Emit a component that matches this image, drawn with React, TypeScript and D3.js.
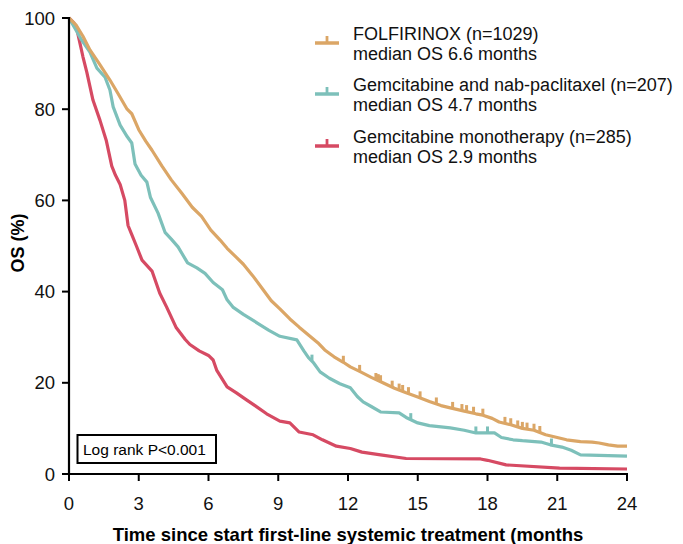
import React from "react";
import * as d3 from "d3";

type Pt = [number, number];

// Kaplan-Meier estimates: [months, OS %]
const folfirinox: Pt[] = [
  [0, 100], [0.3, 98.5], [0.6, 96], [0.9, 93], [1.3, 90], [1.76, 86.4], [2.1, 83.5],
  [2.5, 80], [2.7, 79], [3.0, 75.5], [3.3, 73], [3.57, 71], [4.0, 67.5], [4.4, 64.5],
  [4.86, 61.5], [5.3, 58.5], [5.7, 56.5], [6.1, 53.5], [6.5, 51.3], [6.8, 49.5],
  [7.2, 47.5], [7.5, 46], [7.9, 43.5], [8.35, 40.4], [8.7, 38], [9.07, 36.2],
  [9.5, 34], [9.9, 32.2], [10.3, 30.5], [10.7, 28.8], [11.0, 27.2], [11.4, 25.7],
  [11.8, 24.5], [12.1, 23.5], [12.5, 22.5], [13.0, 21.2], [13.5, 20.0], [14.0, 18.8],
  [14.5, 17.8], [15.0, 16.9], [15.5, 15.9], [16.0, 15.0], [16.4, 14.5], [17.0, 13.8],
  [17.5, 13.2], [17.8, 12.9], [18.2, 12.2], [18.5, 11.4], [19.0, 10.8], [19.5, 10.0],
  [20.0, 9.6], [20.5, 8.6], [21.0, 8.0], [21.4, 7.5], [22.0, 7.1], [22.5, 7.0],
  [22.8, 6.8], [23.2, 6.4], [23.6, 6.1], [24.0, 6.1],
];

const gemNab: Pt[] = [
  [0, 100], [0.34, 97], [0.5, 95.5], [0.9, 92.5], [1.2, 89], [1.55, 87], [1.76, 84.2],
  [1.9, 80.5], [2.2, 76.5], [2.5, 74], [2.7, 72.6], [2.84, 68], [3.1, 65.5], [3.35, 64],
  [3.5, 60.7], [3.83, 57.2], [4.13, 53], [4.4, 51.5], [4.69, 49.8], [5.1, 46.3],
  [5.5, 45.2], [5.85, 44], [6.2, 42], [6.6, 40.4], [6.8, 38.2], [7.05, 36.6], [7.5, 35],
  [8.1, 33.1], [8.6, 31.5], [9.07, 30.2], [9.8, 29.4], [10.1, 27], [10.3, 25.5],
  [10.5, 24.5], [10.8, 22.4], [11.2, 21], [11.65, 19.8], [12.1, 18.9], [12.4, 17],
  [12.65, 15.8], [13.0, 14.8], [13.4, 13.6], [14.2, 13.4], [14.5, 12.4], [15.0, 11.2],
  [15.5, 10.6], [16.4, 10.1], [17.0, 9.6], [17.5, 9.0], [18.3, 9.0], [18.6, 8.0],
  [19.1, 7.5], [19.5, 7.3], [20.3, 7.0], [20.7, 6.4], [21.2, 5.9], [21.6, 5.2],
  [22.0, 4.2], [24.0, 3.9],
];

const gemMono: Pt[] = [
  [0, 100], [0.2, 99], [0.34, 97.5], [0.47, 94.5], [0.6, 91.5], [0.77, 88], [1.03, 82],
  [1.33, 77.6], [1.6, 73.2], [1.84, 67.5], [2.0, 65.5], [2.2, 63.5], [2.4, 60],
  [2.54, 54.5], [2.7, 52.5], [2.9, 50], [3.14, 46.9], [3.57, 44.5], [3.9, 39.7],
  [4.2, 36.6], [4.6, 32.2], [5.0, 29.5], [5.2, 28.4], [5.6, 27], [6.0, 26], [6.2, 25],
  [6.35, 22.8], [6.8, 19.1], [7.2, 17.8], [7.65, 16.2], [8.0, 15], [8.5, 13.2],
  [9.07, 11.6], [9.5, 11.2], [9.9, 9.2], [10.5, 8.6], [10.9, 7.5], [11.5, 6.1],
  [12.1, 5.6], [12.6, 4.8], [13.4, 4.2], [14.5, 3.4], [17.7, 3.3], [18.0, 3.0],
  [18.8, 2.0], [21.1, 1.3], [24, 1.1],
];

// censoring marks (months)
const folfirinoxCensor = [
  11.8, 12.5, 13.2, 13.3, 13.4, 13.9, 14.2, 14.35, 14.6, 15.1, 15.8, 16.5, 16.9,
  17.1, 17.4, 17.8, 18.75, 19.0, 19.3, 19.5, 19.7, 20.0, 20.25,
];
const gemNabCensor = [10.45, 14.7, 17.5, 18.0, 20.75];
const gemMonoCensor: number[] = [];

const xTicks = [0, 3, 6, 9, 12, 15, 18, 21, 24];
const yTicks = [0, 20, 40, 60, 80, 100];

const seriesNames = [
  ["FOLFIRINOX (n=1029)", "median OS 6.6 months"],
  ["Gemcitabine and nab-paclitaxel (n=207)", "median OS 4.7 months"],
  ["Gemcitabine monotherapy (n=285)", "median OS 2.9 months"],
];

const colors = ["#DBA666", "#7DC0BA", "#D64A63"];
const FONT = "'Liberation Sans', Arial, Helvetica, sans-serif";

function valueAt(data: Pt[], t: number) {
  for (let i = 1; i < data.length; i++) {
    const [t0, s0] = data[i - 1];
    const [t1, s1] = data[i];
    if (t >= t0 && t <= t1) {
      return t1 === t0 ? s1 : s0 + ((s1 - s0) * (t - t0)) / (t1 - t0);
    }
  }
  return data[data.length - 1][1];
}

export default function App() {
  const W = 683;
  const H = 544;
  const x = d3.scaleLinear().domain([0, 24]).range([69, 627]);
  const y = d3.scaleLinear().domain([0, 100]).range([474, 18]);
  const line = d3
    .line<Pt>()
    .x((d) => x(d[0]))
    .y((d) => y(d[1]))
    .curve(d3.curveLinear);

  const series = [
    { data: folfirinox, censor: folfirinoxCensor },
    { data: gemNab, censor: gemNabCensor },
    { data: gemMono, censor: gemMonoCensor },
  ];

  const legendY = [43, 94, 146];

  return (
    <svg
      width={W}
      height={H}
      style={{ position: "absolute", left: 0, top: 0, background: "#fff" }}
      fontFamily={FONT}
    >
      {/* curves, drawn back to front */}
      {[2, 1, 0].map((i) => {
        const s = series[i];
        return (
          <g key={i}>
            <path d={line(s.data) || ""} fill="none" stroke={colors[i]} strokeWidth={3.2} strokeLinejoin="round" />
            {s.censor.map((t, j) => {
              const v = valueAt(s.data, t);
              return (
                <line key={j} x1={x(t)} x2={x(t)} y1={y(v)} y2={y(v) - 6.5} stroke={colors[i]} strokeWidth={3} />
              );
            })}
          </g>
        );
      })}

      {/* y axis */}
      <line x1={69} x2={69} y1={y(100) - 1} y2={y(0) + 1} stroke="#000" strokeWidth={2.2} />
      {yTicks.map((t) => (
        <g key={t}>
          <line x1={62} x2={69} y1={y(t)} y2={y(t)} stroke="#000" strokeWidth={2} />
          <text x={55} y={y(t) + 6.5} textAnchor="end" fontSize={18.5} fill="#111">
            {t}
          </text>
        </g>
      ))}

      {/* x axis */}
      <line x1={68} x2={628} y1={474} y2={474} stroke="#000" strokeWidth={2.2} />
      {xTicks.map((t) => (
        <g key={t}>
          <line x1={x(t)} x2={x(t)} y1={474} y2={481} stroke="#000" strokeWidth={2} />
          <text x={x(t)} y={510} textAnchor="middle" fontSize={18.5} fill="#111">
            {t}
          </text>
        </g>
      ))}

      <text x={348} y={540.5} textAnchor="middle" fontSize={18.5} fontWeight="bold" fill="#000">
        Time since start first-line systemic treatment (months
      </text>
      <text
        transform="translate(24,243) rotate(-90)"
        textAnchor="middle"
        fontSize={18}
        fontWeight="bold"
        fill="#000"
      >
        OS (%)
      </text>

      {/* log rank box */}
      <rect x={77.5} y={435} width={138.5} height={28} fill="#fff" stroke="#000" strokeWidth={2} />
      <text x={83} y={455} fontSize={15.5} fill="#000">
        Log rank P&lt;0.001
      </text>

      {/* legend */}
      {seriesNames.map((names, i) => (
        <g key={i}>
          <line x1={315} x2={339} y1={legendY[i]} y2={legendY[i]} stroke={colors[i]} strokeWidth={3.5} />
          <line x1={327} x2={327} y1={legendY[i]} y2={legendY[i] - 7} stroke={colors[i]} strokeWidth={2.8} />
          <text x={353} y={legendY[i] - 3.5} fontSize={18} fill="#111">
            {names[0]}
          </text>
          <text x={353} y={legendY[i] + 16.5} fontSize={18} fill="#111">
            {names[1]}
          </text>
        </g>
      ))}
    </svg>
  );
}
